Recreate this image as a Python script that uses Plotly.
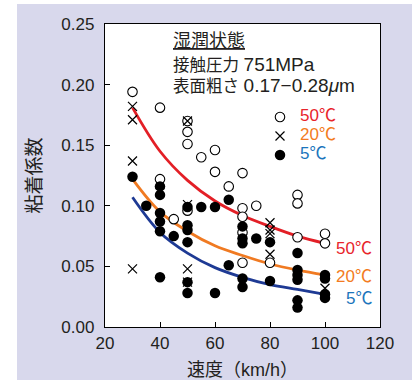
import plotly.graph_objects as go

# ---- measured points (speed km/h, adhesion coefficient) ----
speed_50 = [30, 40, 40, 45, 50, 50, 50, 50, 55, 60, 60, 65, 70, 70, 70, 70, 70, 75, 80, 90, 90, 90, 100, 100]
mu_50 = [0.194, 0.181, 0.122, 0.089, 0.170, 0.161, 0.151, 0.096, 0.140, 0.146, 0.128, 0.116,
         0.127, 0.098, 0.091, 0.078, 0.053, 0.100, 0.053, 0.109, 0.102, 0.074, 0.077, 0.069]

speed_20 = [30, 30, 30, 30, 50, 50, 50, 50, 80, 80, 80, 80, 100]
mu_20 = [0.182, 0.171, 0.137, 0.048, 0.170, 0.101, 0.048, 0.037, 0.086, 0.080, 0.077, 0.060, 0.032]

speed_5 = [30, 35, 40, 40, 40, 40, 40, 40, 45, 50, 50, 50, 50, 50, 50, 55, 60, 60, 65, 65,
           70, 70, 70, 70, 70, 75, 80, 80, 90, 90, 90, 90, 90, 90, 100, 100, 100, 100]
mu_5 = [0.124, 0.100, 0.116, 0.109, 0.094, 0.087, 0.079, 0.041, 0.075, 0.099, 0.084, 0.080,
        0.070, 0.037, 0.028, 0.099, 0.099, 0.028, 0.105, 0.051, 0.083, 0.073, 0.069, 0.040,
        0.033, 0.073, 0.070, 0.038, 0.061, 0.047, 0.043, 0.039, 0.022, 0.016, 0.043, 0.040,
        0.027, 0.024]

# ---- trend curves ----
curve_speed = [30, 40, 50, 60, 70, 80, 90, 100]
curve_50 = [0.181, 0.145, 0.121, 0.104, 0.092, 0.083, 0.075, 0.069]
curve_20 = [0.122, 0.095, 0.079, 0.067, 0.059, 0.052, 0.047, 0.043]
curve_5 = [0.107, 0.078, 0.061, 0.049, 0.041, 0.035, 0.031, 0.027]

temp_labels = ["50℃", "20℃", "5℃"]
x_ticks = [20, 40, 60, 80, 100, 120]
y_ticks = [0.00, 0.05, 0.10, 0.15, 0.20, 0.25]

FONT = "Liberation Sans, Arial, Noto Sans CJK JP, sans-serif"
TXT = "#231f20"
RED, ORANGE, NAVY = "#e31f26", "#f07a22", "#1e3a94"
RED_T, ORANGE_T, BLUE_T = "#e8242b", "#f37b21", "#1b75bc"
LAV = "#d8d8ec"


def colored(label, color):
    return f'<span style="color:{color};font-size:17px">{label}</span>'


fig = go.Figure()

for ys, col in [(curve_50, RED), (curve_20, ORANGE), (curve_5, NAVY)]:
    fig.add_trace(go.Scatter(x=curve_speed, y=ys, mode="lines",
                             line=dict(color=col, width=2.8, shape="spline", smoothing=1.0),
                             showlegend=False, hoverinfo="skip"))

fig.add_trace(go.Scatter(x=speed_50, y=mu_50, mode="markers", name=colored(temp_labels[0], RED_T),
                         marker=dict(symbol="circle", size=9.5, color="white",
                                     line=dict(color="black", width=1.1))))
fig.add_trace(go.Scatter(x=speed_20, y=mu_20, mode="markers", name=colored(temp_labels[1], ORANGE_T),
                         marker=dict(symbol="x-thin-open", size=9, color="black",
                                     line=dict(color="black", width=1.2))))
fig.add_trace(go.Scatter(x=speed_5, y=mu_5, mode="markers", name=colored(temp_labels[2], BLUE_T),
                         marker=dict(symbol="circle", size=10.5, color="black",
                                     line=dict(width=0))))

W, H = 417, 380
L, T = 105, 24          # plot area from (105, 24) to (380, 327)
R, B = W - 380, H - 327
pw, ph = W - L - R, H - T - B


def px(xr):
    """image x pixel -> paper fraction"""
    return (xr - L) / pw


def py(yr):
    """image y pixel -> paper fraction"""
    return (H - B - yr) / ph


shapes = [
    dict(type="rect", xref="paper", yref="paper", x0=px(17), x1=px(412), y0=py(400), y1=py(4),
         fillcolor=LAV, line=dict(width=0), layer="below"),
    dict(type="rect", xref="paper", yref="paper", x0=0, x1=1, y0=0, y1=1,
         fillcolor="white", line=dict(width=0), layer="below"),
]

annotations = [
    dict(text="<u>湿潤状態</u>", x=px(171), y=py(41), xref="paper", yref="paper",
         xanchor="left", yanchor="middle", showarrow=False,
         font=dict(family=FONT, size=18, color=TXT)),
    dict(text='接触圧力 <span style="font-size:19px">751MPa</span>', x=px(171), y=py(64),
         xref="paper", yref="paper", xanchor="left", yanchor="middle", showarrow=False,
         font=dict(family=FONT, size=16.5, color=TXT)),
    dict(text='表面粗さ <span style="font-size:19px">0.17−0.28<i>μ</i>m</span>', x=px(171), y=py(85),
         xref="paper", yref="paper", xanchor="left", yanchor="middle", showarrow=False,
         font=dict(family=FONT, size=16.5, color=TXT)),
]

for lab, col, yy in zip(temp_labels, [RED_T, ORANGE_T, BLUE_T], [248, 276, 298]):
    annotations.append(dict(text=lab, x=px(374), y=py(yy), xref="paper", yref="paper",
                            xanchor="right", yanchor="middle", showarrow=False,
                            font=dict(family=FONT, size=17, color=col)))

axis_common = dict(showline=True, linecolor="black", linewidth=1.3, mirror=True,
                   ticks="inside", ticklen=5, tickwidth=1, tickcolor="black",
                   showgrid=False, zeroline=False, automargin=False,
                   tickfont=dict(family=FONT, size=17, color=TXT))

fig.update_layout(
    width=W, height=H,
    margin=dict(l=L, r=R, t=T, b=B, pad=0),
    paper_bgcolor="white", plot_bgcolor="white",
    shapes=shapes, annotations=annotations,
    showlegend=True,
    legend=dict(x=px(260), y=py(102.5), xanchor="left", yanchor="top",
                bgcolor="rgba(0,0,0,0)", borderwidth=0, tracegroupgap=0,
                font=dict(family=FONT, size=10.8, color=TXT)),
    xaxis=dict(range=[20, 120], tickvals=x_ticks, ticktext=[str(v) for v in x_ticks],
               title=dict(text="速度（km/h）", standoff=14,
                          font=dict(family=FONT, size=18, color=TXT)),
               ticklabelstandoff=0, **axis_common),
    yaxis=dict(range=[0, 0.25], tickvals=y_ticks, ticktext=[f"{v:.2f}" for v in y_ticks],
               title=dict(text="粘着係数", standoff=14,
                          font=dict(family=FONT, size=19, color=TXT)),
               ticklabelstandoff=6, **axis_common),
)

# remove the browser's default 8px body margin so the figure sits at the window origin
fig.write_html("out.html",
               config={"displayModeBar": False},
               post_script="document.body.style.margin='0px';"
                           "document.documentElement.style.overflow='hidden';")
